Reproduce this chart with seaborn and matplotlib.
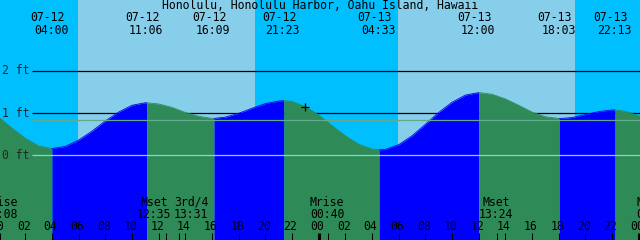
import numpy as np
import pandas as pd
import matplotlib
matplotlib.use("Agg")
import matplotlib.pyplot as plt
import matplotlib.transforms as mtransforms
import seaborn as sns

# ---------------- data ----------------
title = "Honolulu, Honolulu Harbor, Oahu Island, Hawaii"

# tide height (ft) vs hours since 07-12 00:00
tide_hours = [0, 1, 2, 3, 4.0, 5, 6, 7, 8, 9, 10, 11, 11.1, 12, 13, 14, 15, 16, 16.15,
              17, 18, 19, 20, 21, 21.383, 22, 23, 24, 25, 26, 27, 28, 28.55, 29, 30,
              31, 32, 33, 34, 35, 36.0, 37, 38, 39, 40, 41, 42, 42.05, 43, 44, 45, 46,
              46.217, 47, 48, 49]
tide_ft = [0.90, 0.64, 0.40, 0.22, 0.16, 0.21, 0.36, 0.57, 0.81, 1.02, 1.18, 1.24, 1.24,
           1.21, 1.13, 1.01, 0.92, 0.87, 0.87, 0.90, 0.99, 1.11, 1.22, 1.28, 1.29, 1.27,
           1.15, 0.95, 0.70, 0.46, 0.26, 0.15, 0.13, 0.14, 0.25, 0.46, 0.73, 1.01, 1.25,
           1.42, 1.48, 1.44, 1.33, 1.18, 1.02, 0.91, 0.87, 0.865, 0.89, 0.96, 1.03, 1.07,
           1.07, 1.04, 0.93, 0.76]

# high / low tide events
extreme_hours = [4.0, 11.1, 16.15, 21.383, 28.55, 36.0, 42.05, 46.217]
extreme_kind = ["low", "high", "low", "high", "low", "high", "low", "high"]
extreme_dates = ["07-12", "07-12", "07-12", "07-12", "07-13", "07-13", "07-13", "07-13"]
extreme_times = ["04:00", "11:06", "16:09", "21:23", "04:33", "12:00", "18:03", "22:13"]

# sun
sunrise_hours = [5.95, 29.95]
sunset_hours = [19.23, 43.22]

# moon events
moon_hours = [0.133, 12.583, 13.517, 24.667, 37.4, 49.2]
moon_labels = ["Mrise", "Mset", "3rd/4", "Mrise", "Mset", "Mrise"]
moon_times = ["00:08", "12:35", "13:31", "00:40", "13:24", "01:14"]

height_ticks = [0, 1, 2]
height_labels = ["0 ft", "1 ft", "2 ft"]
msl_ft = 0.825
hour_ticks = list(range(0, 49, 2))
hour_labels = ["%02d" % (h % 24) for h in hour_ticks]

now_hour, now_ft = 23.0, 1.14

# ---------------- styling ----------------
NIGHT = "#00BFFF"
DAY = "#87CEEB"
FLOOD = "#0000FF"
EBB = "#2E8B57"
DATUM = "#86D6D6"
MSL = "#63A98C"

W, H, DPI = 640, 240, 100
PX_PER_H = 640 / 48.0
T0 = 0.1
T1 = T0 + 48.0
Y0_PX, PX_PER_FT = 155.3, 42.4
YMIN = (Y0_PX - H) / PX_PER_FT
YMAX = Y0_PX / PX_PER_FT

sns.set_theme(style="white")
plt.rcParams["font.family"] = ["DejaVu Sans Mono", "DejaVu Sans"]
FS = 8.3

fig = plt.figure(figsize=(W / DPI, H / DPI), dpi=DPI)
ax = fig.add_axes([0, 0, 1, 1])
ax.set_xlim(T0, T1)
ax.set_ylim(YMIN, YMAX)
ax.set_axis_off()

# sky background
edges = [T0 - 1] + sorted(sunrise_hours + sunset_hours) + [T1 + 1]
for i in range(len(edges) - 1):
    ax.axvspan(edges[i], edges[i + 1], color=NIGHT if i % 2 == 0 else DAY, lw=0, zorder=0)

# tide fill, coloured by flood / ebb
df = pd.DataFrame({"hour": tide_hours, "ft": tide_ft})
bounds = [-np.inf] + extreme_hours + [np.inf]
for i in range(len(bounds) - 1):
    a, b = bounds[i], bounds[i + 1]
    seg = df[(df.hour >= a - 1e-9) & (df.hour <= b + 1e-9)]
    if i < len(extreme_kind):
        col = FLOOD if extreme_kind[i] == "high" else EBB
    else:
        col = EBB
    ax.fill_between(seg.hour, seg.ft, YMIN, color=col, lw=0, zorder=1)
    sns.lineplot(data=seg, x="hour", y="ft", color=col, lw=0.6, ax=ax, zorder=2,
                 sort=False, estimator=None)

# height lines: foot lines sit behind the water, datum and MSL on top
x_start = T0 + 32 / PX_PER_H
for h, lab in zip(height_ticks, height_labels):
    if h == 0:
        ax.hlines(h, x_start, T1, color=DATUM, lw=0.9, zorder=3)
    else:
        ax.hlines(h, x_start, T1, color="black", lw=0.9, zorder=0.5)
    y_base = 1 - (Y0_PX - h * PX_PER_FT + 3.8) / H
    ax.text(2 / W, y_base, lab, transform=ax.transAxes, ha="left", va="baseline",
            fontsize=FS, zorder=5)
ax.hlines(msl_ft, x_start, T1, color=MSL, lw=0.9, zorder=3)

# current-time marker
ax.plot([now_hour], [now_ft], marker="+", ms=6.2, mew=0.9, color="black", zorder=6)

blend = mtransforms.blended_transform_factory(ax.transData, ax.transAxes)


def put(x, y_px, s, dx=0.0):
    tr = mtransforms.offset_copy(blend, fig=fig, x=dx, y=0, units="dots")
    ax.text(x, 1 - y_px / H, s, transform=tr, ha="center", va="baseline",
            fontsize=FS, color="black", zorder=7, clip_on=False)


# title
fig.text(0.5, 1 - 9.3 / H, title, ha="center", va="baseline", fontsize=FS, color="black")

# tide event labels
for t, d, s in zip(extreme_hours, extreme_dates, extreme_times):
    put(t, 21.3, d, dx=-4.5)
    put(t, 34, s, dx=-1.0)

# moon labels
moon_nudge = [0.0, -12.4, 12.2, -0.6, -1.5, -1.0]
for t, lab, s, dx in zip(moon_hours, moon_labels, moon_times, moon_nudge):
    put(t, 205.7, lab, dx=dx)
    put(t, 217.7, s, dx=dx)

# hour labels & ticks
for t, lab in zip(hour_ticks, hour_labels):
    put(t, 229.7, lab, dx=-1.6)
tick_frac = 7.5 / H
minor = [t for t in hour_ticks if t % 24 != 0] + moon_hours
ax.vlines(minor, 0, tick_frac, transform=blend, color="black", lw=0.75, zorder=8)
mid = [t for t in hour_ticks if t % 24 == 0]
ax.vlines(mid, 0, tick_frac, transform=blend, color="black", lw=2.2, zorder=8)

fig.savefig("out.png", dpi=DPI)
